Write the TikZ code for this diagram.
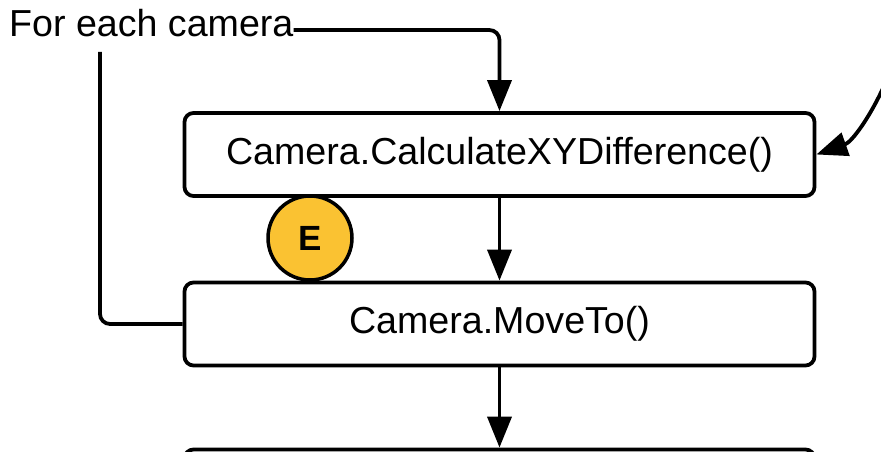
\documentclass[tikz,border=0pt]{standalone}
\usepackage{fontspec}
\setmainfont{Liberation Sans}
\usetikzlibrary{arrows.meta}
\definecolor{markyellow}{RGB}{250,194,50}
\begin{document}
\begin{tikzpicture}[x=1pt,y=1pt,
  stepbox/.style={draw=black, line width=3.8pt, rounded corners=9pt, fill=white,
    minimum width=630pt, minimum height=83pt, inner sep=0pt, font=\fontsize{37.6}{42}\selectfont},
  flow/.style={line width=3.8pt, -{Triangle[length=31pt,width=24pt]}},
  link/.style={line width=3.8pt, rounded corners=10pt},
  marker/.style={circle, draw=black, line width=3.5pt, fill=markyellow, minimum size=84pt,
    inner sep=0pt, font=\fontsize{35}{40}\selectfont\bfseries}]
\useasboundingbox (0,0) rectangle (881,452);

% process steps
\node[stepbox] (calc) at (499.5,297.5) {Camera.CalculateXYDifference()};
\node[stepbox] (move) at (499.5,128) {Camera.MoveTo()};
\node[stepbox] (next) at (499.5,-39) {};

% loop label
\node[anchor=base west, inner sep=0pt, font=\fontsize{37.6}{42}\selectfont] (start) at (9,415.5) {For each camera};
\coordinate (loopback) at (100,400);
\coordinate (incoming) at (884,366);

% connectors
\draw[flow, rounded corners=10pt] ([yshift=-7pt]start.east) -| (calc.north);
\draw[flow] (calc.south) -- (move.north);
\draw[flow] (move.south) -- (next.north);
\draw[link] (move.west) -| (loopback);
\draw[flow] (incoming) .. controls (870,335) and (852,310) .. (calc.east);

% error marker
\node[marker] (err) at (310,214) {E};
\end{tikzpicture}
\end{document}
